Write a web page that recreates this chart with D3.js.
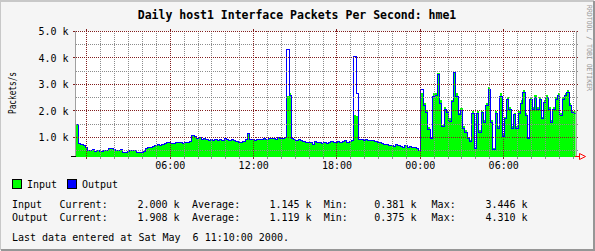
<!DOCTYPE html>
<html>
<head>
<meta charset="utf-8">
<script src="https://cdn.jsdelivr.net/npm/d3@7"></script>
<style>
  body { margin: 0; background: #f5f5f5; }
  text { font-family: "DejaVu Sans Mono", monospace; }
</style>
</head>
<body>
<script>
const title = "Daily host1 Interface Packets Per Second: hme1";
const yLabel = "Packets/s";
const yMajor = [1, 2, 3, 4, 5];
const yMinor = [0.5, 1.5, 2.5, 3.5, 4.5];
const xLabelTimes = [
  new Date(2000, 4, 5, 6), new Date(2000, 4, 5, 12), new Date(2000, 4, 5, 18),
  new Date(2000, 4, 6, 0), new Date(2000, 4, 6, 6)
];
const startTime = new Date(2000, 4, 4, 23, 20); // first sample
const stepMin = 10;

// packets/s in thousands
const inputK = [
  1.45, 0.75, 0.72, 0.68, 0.62, 0.50, 0.48, 0.52, 0.46, 0.50,
  0.47, 0.44, 0.50, 0.48, 0.55, 0.58, 0.52, 0.48, 0.50, 0.53,
  0.42, 0.40, 0.45, 0.50, 0.48, 0.50, 0.42, 0.40, 0.43, 0.47,
  0.55, 0.60, 0.62, 0.65, 0.68, 0.70, 0.66, 0.72, 0.75, 0.78,
  0.80, 0.75, 0.77, 0.80, 0.78, 0.80, 0.76, 0.78, 0.80, 0.82,
  1.05, 1.02, 0.95, 0.98, 0.92, 0.95, 0.90, 0.88, 0.92, 0.88,
  0.90, 0.86, 0.92, 0.88, 0.94, 0.90, 0.87, 0.92, 0.85, 0.82,
  0.80, 0.78, 0.82, 0.90, 1.10, 0.92, 0.90, 0.88, 0.90, 0.92,
  0.90, 0.94, 0.92, 0.96, 0.93, 0.95, 0.92, 0.97, 0.94, 0.96,
  0.98, 2.55, 2.67, 0.95, 0.90, 0.88, 0.92, 0.85, 0.82, 0.80,
  0.78, 0.80, 0.72, 0.82, 0.78, 0.80, 0.76, 0.78, 0.74, 0.80,
  0.82, 0.78, 0.80, 0.83, 0.80, 0.82, 0.86, 0.80, 0.84, 0.88,
  1.83, 1.80, 0.90, 0.92, 0.88, 0.90, 0.86, 0.88, 0.85, 0.84,
  0.80, 0.78, 0.75, 0.72, 0.70, 0.66, 0.68, 0.65, 0.70, 0.66,
  0.64, 0.62, 0.66, 0.60, 0.64, 0.60, 0.62, 0.58, 0.50,
  2.65, 2.28, 2.02, 1.39, 1.00, 2.65, 2.65, 3.40, 2.40, 1.45,
  2.14, 2.00, 1.70, 2.40, 3.44, 2.65, 1.90, 2.10, 1.40, 1.26,
  1.00, 0.90, 2.00, 0.63, 2.00, 1.26, 2.00, 1.64, 2.28, 2.90,
  1.64, 0.57, 2.00, 1.40, 2.65, 1.10, 1.77, 2.52, 2.14, 1.40,
  1.90, 1.40, 2.00, 2.40, 2.77, 1.90, 1.00, 2.52, 2.14, 2.58,
  2.14, 2.52, 1.77, 2.40, 2.58, 2.14, 1.64, 2.14, 2.52, 2.65,
  1.90, 2.52, 2.65, 2.77, 2.28, 2.00, 2.00
];
const outputK = [
  1.50, 0.78, 0.74, 0.70, 0.64, 0.52, 0.50, 0.54, 0.48, 0.52,
  0.49, 0.46, 0.52, 0.50, 0.57, 0.60, 0.54, 0.50, 0.52, 0.55,
  0.44, 0.42, 0.47, 0.52, 0.50, 0.52, 0.44, 0.42, 0.45, 0.49,
  0.57, 0.62, 0.64, 0.67, 0.70, 0.72, 0.68, 0.74, 0.77, 0.80,
  0.82, 0.77, 0.79, 0.82, 0.80, 0.82, 0.78, 0.80, 0.82, 0.84,
  1.07, 1.04, 0.97, 1.00, 0.94, 0.97, 0.92, 0.90, 0.94, 0.90,
  0.92, 0.88, 0.94, 0.90, 0.96, 0.92, 0.89, 0.94, 0.87, 0.84,
  0.82, 0.80, 0.84, 0.92, 1.14, 0.94, 0.92, 0.90, 0.92, 0.94,
  0.92, 0.96, 0.94, 0.98, 0.95, 0.97, 0.94, 0.99, 0.96, 0.98,
  1.00, 4.31, 2.60, 0.97, 0.92, 0.90, 0.94, 0.87, 0.84, 0.82,
  0.80, 0.82, 0.74, 0.84, 0.80, 0.82, 0.78, 0.80, 0.76, 0.82,
  0.84, 0.80, 0.82, 0.85, 0.82, 0.84, 0.88, 0.82, 0.86, 0.90,
  4.05, 2.65, 0.92, 0.94, 0.90, 0.92, 0.88, 0.90, 0.87, 0.86,
  0.82, 0.80, 0.77, 0.74, 0.72, 0.68, 0.70, 0.67, 0.72, 0.68,
  0.66, 0.64, 0.68, 0.62, 0.66, 0.62, 0.64, 0.60, 0.52,
  2.83, 2.20, 1.95, 1.30, 0.95, 2.55, 2.60, 3.37, 2.30, 1.40,
  2.05, 1.95, 1.62, 2.35, 3.46, 2.55, 1.85, 2.00, 1.35, 1.20,
  0.95, 0.85, 1.90, 0.60, 1.92, 1.20, 1.95, 1.58, 2.20, 2.80,
  1.55, 0.55, 1.92, 1.35, 2.55, 1.05, 1.70, 2.45, 2.05, 1.35,
  1.85, 1.35, 1.92, 2.30, 2.70, 1.82, 0.95, 2.45, 2.05, 2.50,
  2.05, 2.45, 1.70, 2.32, 2.50, 2.05, 1.58, 2.05, 2.45, 2.58,
  1.82, 2.45, 2.58, 2.70, 2.20, 1.95, 1.908
];

const legendItems = [
  { name: "Input", color: "#00ff00" },
  { name: "Output", color: "#0000ff" }
];
const statRows = [
  ["Input", "2.000 k", "1.145 k", "0.381 k", "3.446 k"],
  ["Output", "1.908 k", "1.119 k", "0.375 k", "4.310 k"]
];
const lastUpdate = "Last data entered at Sat May  6 11:10:00 2000.";

const width = 595, height = 251;
const plot = { left: 75.5, right: 575.5, top: 31, bottom: 156 };

const svg = d3.select("body").append("svg")
  .attr("width", width)
  .attr("height", height)
  .style("display", "block");

// frame with shading
svg.append("rect").attr("width", width).attr("height", height).attr("fill", "#f5f5f5");
svg.append("path").attr("d", `M0,${height - 1}V1H${width - 1}`)
  .attr("fill", "none").attr("stroke", "#c8c8c8").attr("stroke-width", 2);
svg.append("path").attr("d", `M1,${height - 1}H${width - 1}V1`)
  .attr("fill", "none").attr("stroke", "#969696").attr("stroke-width", 2);

const x = d3.scaleTime()
  .domain([new Date(2000, 4, 4, 23, 12, 30), new Date(2000, 4, 6, 11, 12, 30)])
  .range([plot.left, plot.right]);
const y = d3.scaleLinear()
  .domain([0.283, 5.0])
  .range([plot.bottom, plot.top]);
const snap = (v) => Math.round(v) + 0.5;

svg.append("rect")
  .attr("x", plot.left).attr("y", plot.top)
  .attr("width", plot.right - plot.left).attr("height", plot.bottom - plot.top + 1)
  .attr("fill", "#ffffff");

// x axis base line (mostly hidden by the area)
svg.append("line")
  .attr("x1", 71).attr("x2", 580).attr("y1", snap(plot.bottom)).attr("y2", snap(plot.bottom))
  .attr("stroke", "#000").attr("shape-rendering", "crispEdges");

svg.append("clipPath").attr("id", "clip")
  .append("rect")
  .attr("x", plot.left).attr("y", plot.top - 5)
  .attr("width", plot.right - plot.left).attr("height", plot.bottom - plot.top + 7);

const stepMs = stepMin * 60000;
function toPoints(values) {
  const pts = values.map((v, i) => [new Date(+startTime + i * stepMs - stepMs / 2), v]);
  pts.push([new Date(+startTime + (values.length - 1) * stepMs + stepMs / 2), values[values.length - 1]]);
  return pts;
}

const area = d3.area()
  .curve(d3.curveStepAfter)
  .x((d) => x(d[0]))
  .y0(plot.bottom + 1)
  .y1((d) => y(d[1]));
const line = d3.line()
  .curve(d3.curveStepAfter)
  .x((d) => x(d[0]))
  .y((d) => snap(y(d[1])));

const g = svg.append("g").attr("clip-path", "url(#clip)");
g.append("path")
  .datum(toPoints(inputK))
  .attr("fill", "#00ff00")
  .attr("shape-rendering", "crispEdges")
  .attr("d", area);
g.append("path")
  .datum(toPoints(outputK))
  .attr("fill", "none")
  .attr("stroke", "#0000ff")
  .attr("stroke-width", 1)
  .attr("shape-rendering", "crispEdges")
  .attr("d", line);

// grid on top of the data, like rrdtool
const hours = d3.timeHour.range(x.domain()[0], x.domain()[1]);
const grid = svg.append("g").attr("shape-rendering", "crispEdges").attr("fill", "none");
hours.forEach((t) => {
  const major = t.getHours() % 6 === 0;
  const xx = snap(x(t));
  const col = major ? "#821e1e" : "#8c8c8c";
  grid.append("line")
    .attr("x1", xx).attr("x2", xx).attr("y1", plot.top).attr("y2", plot.bottom)
    .attr("stroke", col).attr("stroke-dasharray", "1,1");
  grid.append("line")
    .attr("x1", xx).attr("x2", xx).attr("y1", plot.bottom + 1).attr("y2", plot.bottom + 3)
    .attr("stroke", col);
  if (major) {
    grid.append("line")
      .attr("x1", xx).attr("x2", xx).attr("y1", plot.top - 2).attr("y2", plot.top)
      .attr("stroke", col);
  }
});
[...yMinor.map((v) => [v, false]), ...yMajor.map((v) => [v, true])].forEach(([v, major]) => {
  const yy = major && v === 5 ? plot.top + 0.5 : snap(y(v));
  const col = major ? "#821e1e" : "#8c8c8c";
  grid.append("line")
    .attr("x1", plot.left).attr("x2", plot.right).attr("y1", yy).attr("y2", yy)
    .attr("stroke", col).attr("stroke-dasharray", "1,1");
  grid.append("line")
    .attr("x1", plot.right).attr("x2", plot.right + 2.5).attr("y1", yy).attr("y2", yy)
    .attr("stroke", col);
  if (major) {
    grid.append("line")
      .attr("x1", plot.left - 2.5).attr("x2", plot.left).attr("y1", yy).attr("y2", yy)
      .attr("stroke", col);
  }
});

// side axis lines
svg.append("g").attr("shape-rendering", "crispEdges")
  .selectAll("line")
  .data([plot.left - 0.5, plot.right])
  .join("line")
  .attr("x1", (d) => snap(d)).attr("x2", (d) => snap(d))
  .attr("y1", plot.top).attr("y2", plot.bottom + 1)
  .attr("stroke", "#a0a0a0");

// bottom-left tick and arrow
svg.append("line").attr("x1", 71).attr("x2", plot.left).attr("y1", snap(plot.bottom)).attr("y2", snap(plot.bottom))
  .attr("stroke", "#000").attr("shape-rendering", "crispEdges");
svg.append("path")
  .attr("d", `M579.5,153.5V159.5L585.5,156.5Z M575,156.5H579.5`)
  .attr("fill", "none").attr("stroke", "#ff0000").attr("stroke-width", 1);

// y tick labels
svg.append("g")
  .attr("transform", `translate(${plot.left - 7},0)`)
  .call(d3.axisLeft(y).tickValues(yMajor).tickSize(0).tickFormat((d) => d.toFixed(1) + " k"))
  .call((a) => a.select(".domain").remove())
  .call((a) => a.selectAll("text")
    .attr("x", 0).attr("dy", "0.36em")
    .attr("fill", "#000").style("font-size", "10px")
    .style("font-family", "'DejaVu Sans Mono', monospace"));

// x tick labels
svg.append("g")
  .attr("transform", `translate(0,${plot.bottom})`)
  .call(d3.axisBottom(x).tickValues(xLabelTimes).tickSize(0).tickFormat(d3.timeFormat("%H:%M")))
  .call((a) => a.select(".domain").remove())
  .call((a) => a.selectAll("text")
    .attr("y", 12.5).attr("dy", 0)
    .attr("fill", "#000").style("font-size", "10px")
    .style("font-family", "'DejaVu Sans Mono', monospace"));

// title
svg.append("text")
  .attr("x", 297).attr("y", 18.5)
  .attr("text-anchor", "middle")
  .style("font-size", "11.5px").style("font-weight", "bold")
  .text(title);

// vertical y label
svg.append("text")
  .attr("transform", "translate(15.5,93) rotate(-90)")
  .attr("text-anchor", "middle")
  .attr("textLength", 42).attr("lengthAdjust", "spacingAndGlyphs")
  .style("font-size", "10px")
  .text(yLabel);

// watermark
svg.append("text")
  .attr("transform", "translate(586.5,5) rotate(90)")
  .attr("textLength", 86).attr("lengthAdjust", "spacingAndGlyphs")
  .attr("fill", "#999")
  .style("font-size", "7px")
  .text("RRDTOOL / TOBI OETIKER");

// legend
const legend = svg.append("g");
legendItems.forEach((d, i) => {
  const lx = i === 0 ? 12.5 : 67.5;
  legend.append("rect")
    .attr("x", lx).attr("y", 179.5).attr("width", 9).attr("height", 9)
    .attr("fill", d.color).attr("stroke", "#000").attr("shape-rendering", "crispEdges");
  legend.append("text")
    .attr("x", lx + 14.5).attr("y", 187.5)
    .style("font-size", "10px")
    .text(d.name);
});

// statistics rows
const statCols = [12, 59.5, 137.5, 192, 269.5, 323.7, 374.3, 431.6, 485.4];
statRows.forEach((row, r) => {
  const yy = 207.5 + r * 13.5;
  const parts = [row[0], "Current:", row[1], "Average:", row[2], "Min:", row[3], "Max:", row[4]];
  parts.forEach((p, c) => {
    svg.append("text")
      .attr("x", statCols[c]).attr("y", yy)
      .style("font-size", "10px")
      .text(p);
  });
});

svg.append("text")
  .attr("x", 12).attr("y", 240.5)
  .attr("xml:space", "preserve")
  .style("font-size", "10px")
  .style("white-space", "pre")
  .text(lastUpdate);
</script>
</body>
</html>
